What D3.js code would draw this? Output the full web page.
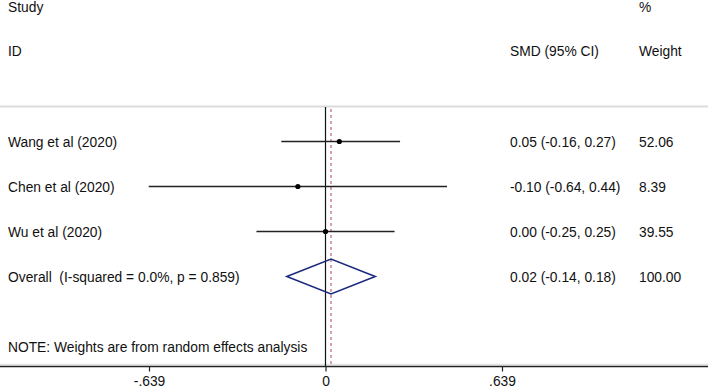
<!DOCTYPE html>
<html lang="en">
<head>
  <meta charset="UTF-8">
  <title>Forest plot</title>
  <style>
    body { margin: 0; background: #fff; }
    text { font-family: "Liberation Sans", Arial, Helvetica, sans-serif; font-size: 13.8px; fill: #111; }
  </style>
</head>
<body>
<script src="https://d3js.org/d3.v7.min.js"></script>
<div id="d3_chart"></div>
<script>
    // data
    const studies = ["Wang et al (2020)", "Chen et al (2020)", "Wu et al (2020)"];
    const smd = [0.05, -0.10, 0.00];
    const lower = [-0.16, -0.64, -0.25];
    const upper = [0.27, 0.44, 0.25];
    const weights = ["52.06", "8.39", "39.55"];

    const overallLabel = "Overall  (I-squared = 0.0%, p = 0.859)";
    const overallEst = 0.02, overallLo = -0.14, overallHi = 0.18;
    const overallWeight = "100.00";

    const tickValues = [-0.639, 0, 0.639];
    const tickLabels = ["-.639", "0", ".639"];
    const note = "NOTE: Weights are from random effects analysis";

    // dimensions
    const width = 708, height = 389;
    const axisY = 366.5, plotTop = 107;

    const svg = d3.select("#d3_chart")
      .append("svg")
        .attr("width", width)
        .attr("height", height);

    // scales
    const x = d3.scaleLinear()
      .domain([-0.639, 0.639])
      .range([149, 502]);

    const y = d3.scalePoint()
      .domain(d3.range(4))
      .range([141.5, 276.5]);

    const fmt = v => (v < 0 ? "-" : "") + Math.abs(v).toFixed(2);
    const ciText = (e, l, u) => `${fmt(e)} (${fmt(l)}, ${fmt(u)})`;

    // header
    svg.append("text").attr("x", 8).attr("y", 12).text("Study");
    svg.append("text").attr("x", 8).attr("y", 56).text("ID");
    svg.append("text").attr("x", 510).attr("y", 56).text("SMD (95% CI)");
    svg.append("text").attr("x", 639).attr("y", 12).text("%");
    svg.append("text").attr("x", 639).attr("y", 56).text("Weight");

    // light separators
    svg.append("line")
      .attr("x1", 0).attr("x2", width)
      .attr("y1", 106.5).attr("y2", 106.5)
      .attr("stroke", "#dcdcdc").attr("stroke-width", 2);
    svg.append("line")
      .attr("x1", 0).attr("x2", width)
      .attr("y1", axisY - 2).attr("y2", axisY - 2)
      .attr("stroke", "#e2e2e2").attr("stroke-width", 1.5);

    // null line and overall line
    svg.append("line")
      .attr("x1", x(0)).attr("x2", x(0))
      .attr("y1", plotTop).attr("y2", axisY)
      .attr("stroke", "#111").attr("stroke-width", 1.2);
    svg.append("line")
      .attr("x1", x(overallEst)).attr("x2", x(overallEst))
      .attr("y1", plotTop + 2).attr("y2", axisY)
      .attr("stroke", "#c46f7d").attr("stroke-width", 1.3)
      .attr("stroke-dasharray", "3,3");

    // study rows
    const rows = studies.map((s, i) => ({name: s, est: smd[i], lo: lower[i], hi: upper[i], w: weights[i], i: i}));

    const g = svg.append("g").attr("class", "rows");

    g.selectAll(".ci")
      .data(rows)
      .join("line")
        .attr("class", "ci")
        .attr("x1", d => x(d.lo)).attr("x2", d => x(d.hi))
        .attr("y1", d => y(d.i)).attr("y2", d => y(d.i))
        .attr("stroke", "#222").attr("stroke-width", 1.5);

    g.selectAll(".pt")
      .data(rows)
      .join("circle")
        .attr("class", "pt")
        .attr("cx", d => x(d.est)).attr("cy", d => y(d.i))
        .attr("r", 2.6)
        .attr("fill", "#000");

    g.selectAll(".lbl")
      .data(rows)
      .join("text")
        .attr("class", "lbl")
        .attr("x", 8).attr("y", d => y(d.i) + 5)
        .text(d => d.name);

    g.selectAll(".est")
      .data(rows)
      .join("text")
        .attr("class", "est")
        .attr("x", 510).attr("y", d => y(d.i) + 5)
        .text(d => ciText(d.est, d.lo, d.hi));

    g.selectAll(".wt")
      .data(rows)
      .join("text")
        .attr("class", "wt")
        .attr("x", 639).attr("y", d => y(d.i) + 5)
        .text(d => d.w);

    // overall diamond
    const oy = y(3);
    svg.append("path")
      .attr("d", d3.line()([
        [x(overallLo), oy],
        [x(overallEst), oy - 17.5],
        [x(overallHi), oy],
        [x(overallEst), oy + 17.5]
      ]) + "Z")
      .attr("fill", "none")
      .attr("stroke", "#1b2a7e")
      .attr("stroke-width", 1.6);

    svg.append("text").attr("x", 8).attr("y", oy + 5)
      .attr("xml:space", "preserve").style("white-space", "pre")
      .text(overallLabel);
    svg.append("text").attr("x", 510).attr("y", oy + 5)
      .text(ciText(overallEst, overallLo, overallHi));
    svg.append("text").attr("x", 639).attr("y", oy + 5)
      .text(overallWeight);

    // note
    svg.append("text").attr("x", 8).attr("y", 352).text(note);

    // x axis
    const axis = svg.append("g")
      .attr("transform", `translate(0, ${axisY})`)
      .call(d3.axisBottom(x)
        .tickValues(tickValues)
        .tickFormat((d, i) => tickLabels[i])
        .tickSize(5)
        .tickSizeOuter(0));
    axis.select(".domain").remove();
    axis.selectAll(".tick line").attr("stroke", "#222").attr("stroke-width", 1.2);
    axis.selectAll(".tick text")
      .attr("y", 10)
      .style("font-family", "\"Liberation Sans\", Arial, sans-serif")
      .style("font-size", "13.8px")
      .attr("fill", "#111");
    axis.append("line")
      .attr("x1", 0).attr("x2", width)
      .attr("y1", 0).attr("y2", 0)
      .attr("stroke", "#222").attr("stroke-width", 1.4);
</script>
</body>
</html>
